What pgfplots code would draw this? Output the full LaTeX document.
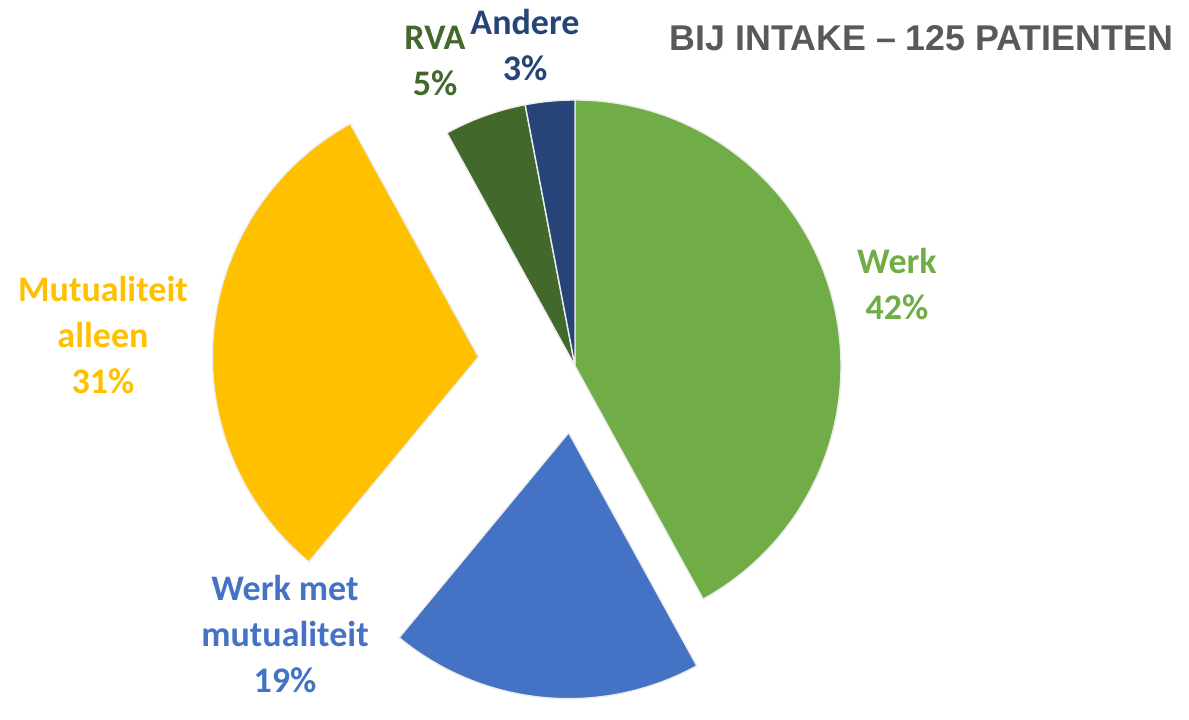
\documentclass[border=0pt]{standalone}
\usepackage{pgfplots}
\usepackage{pgfplotstable}
\pgfplotsset{compat=1.18}
\usepackage{fontspec}
\setmainfont{Carlito}
\newfontfamily\titlefont{Liberation Sans}
\definecolor{cWerk}{HTML}{70AD47}
\definecolor{cWerkMet}{HTML}{4472C4}
\definecolor{cMut}{HTML}{FFC000}
\definecolor{cRVA}{HTML}{43682B}
\definecolor{cAndere}{HTML}{264478}
\definecolor{cTitle}{HTML}{595959}
\begin{document}
\begin{tikzpicture}
\pgfplotstableread{
value explode
42 0
19 67
31 97
5 0
3 0
}\piedata
\def\cum{0}%
\pgfplotsforeachungrouped \i in {0,...,4}{%
  \pgfplotstablegetelem{\i}{value}\of\piedata \let\v\pgfplotsretval
  \pgfplotstablegetelem{\i}{explode}\of\piedata \let\ex\pgfplotsretval
  \pgfmathsetmacro\sa{90-3.6*\cum}%
  \pgfmathsetmacro\ea{90-3.6*(\cum+\v)}%
  \pgfmathsetmacro\ma{(\sa+\ea)/2}%
  \pgfmathsetmacro\dx{575+\ex*cos(\ma)}%
  \pgfmathsetmacro\dy{331+\ex*sin(\ma)}%
  \expandafter\xdef\csname sa\i\endcsname{\sa}%
  \expandafter\xdef\csname ea\i\endcsname{\ea}%
  \expandafter\xdef\csname dx\i\endcsname{\dx}%
  \expandafter\xdef\csname dy\i\endcsname{\dy}%
  \pgfmathsetmacro\cum{\cum+\v}%
}%
\tikzset{slice0/.style={fill=cWerk},slice1/.style={fill=cWerkMet},slice2/.style={fill=cMut},slice3/.style={fill=cRVA},slice4/.style={fill=cAndere}}
\begin{axis}[
  width=594.5pt, height=348.5pt, scale only axis,
  xmin=0, xmax=1189, ymin=0, ymax=697,
  hide axis, clip=false,
]
\path (rel axis cs:0,0) rectangle (rel axis cs:1,1);
\pgfplotsinvokeforeach{0,...,4}{%
  \edef\temp{\noexpand\path[slice#1, draw=white!85!gray, line width=0.7pt] (axis cs:\csname dx#1\endcsname,\csname dy#1\endcsname) -- ++(\csname sa#1\endcsname:133pt) arc[start angle=\csname sa#1\endcsname, end angle=\csname ea#1\endcsname, radius=133pt] -- cycle;}\temp
}
\node[font=\titlefont\bfseries\fontsize{17.9}{20}\selectfont, text=cTitle, anchor=center] at (axis cs:921.5,659) {BIJ INTAKE – 125 PATIENTEN};
\tikzset{lbl/.style={font=\bfseries\fontsize{18}{23}\selectfont, align=center, anchor=center}}
\node[lbl, text=cWerk] at (axis cs:897,413) {Werk\\42\%};
\node[lbl, text=cWerkMet] at (axis cs:285,63) {Werk met\\mutualiteit\\19\%};
\node[lbl, text=cMut] at (axis cs:103,362) {Mutualiteit\\alleen\\31\%};
\node[lbl, text=cRVA] at (axis cs:435,636) {RVA\\5\%};
\node[lbl, text=cAndere] at (axis cs:525,652) {Andere\\3\%};
\end{axis}
\end{tikzpicture}
\end{document}
